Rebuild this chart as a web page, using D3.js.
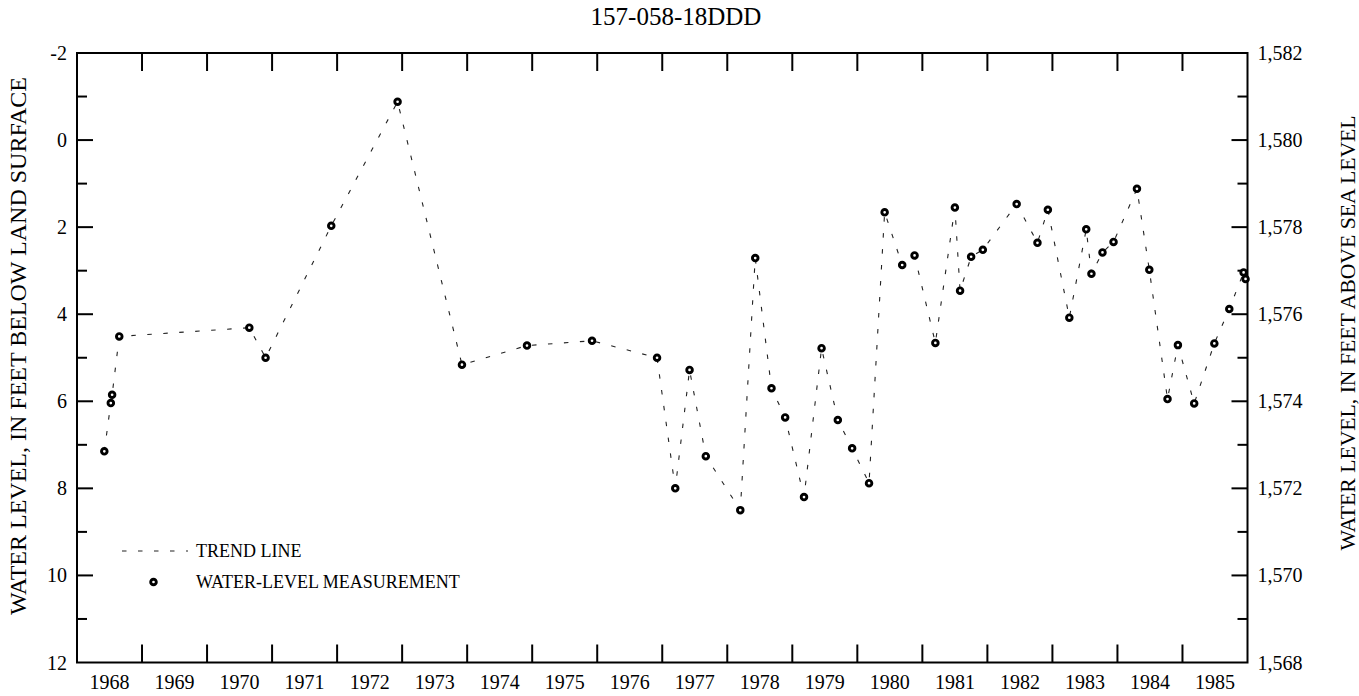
<!DOCTYPE html>
<html>
<head>
<meta charset="utf-8">
<script src="https://cdn.jsdelivr.net/npm/d3@7"></script>
<style>
  html, body { margin: 0; padding: 0; background: #fff; }
  svg { display: block; font-family: "Liberation Serif", "Times New Roman", serif; }
</style>
</head>
<body>
<svg id="chart" width="1359" height="696"></svg>
<script>
// ---- data ----
const chartTitle = "157-058-18DDD";
const measureYears = [1968.42, 1968.52, 1968.54, 1968.65, 1970.65, 1970.90, 1971.91, 1972.93,
  1973.92, 1974.92, 1975.92, 1976.92, 1977.20, 1977.42, 1977.67, 1978.20, 1978.43, 1978.68,
  1978.89, 1979.18, 1979.45, 1979.70, 1979.92, 1980.18, 1980.42, 1980.69, 1980.88, 1981.20,
  1981.50, 1981.58, 1981.75, 1981.93, 1982.45, 1982.77, 1982.93, 1983.26, 1983.52, 1983.60,
  1983.77, 1983.94, 1984.30, 1984.49, 1984.77, 1984.93, 1985.18, 1985.49, 1985.72, 1985.94, 1985.97];
const depthBelowSurface = [7.15, 6.04, 5.85, 4.51, 4.31, 5.00, 1.97, -0.88,
  5.16, 4.72, 4.61, 5.00, 8.00, 5.28, 7.26, 8.50, 2.71, 5.70,
  6.37, 8.20, 4.78, 6.43, 7.08, 7.88, 1.66, 2.87, 2.65, 4.66,
  1.55, 3.46, 2.68, 2.52, 1.47, 2.36, 1.60, 4.08, 2.05, 3.07,
  2.58, 2.34, 1.12, 2.98, 5.95, 4.71, 6.05, 4.67, 3.88, 3.04, 3.19];
const yearLabels = [1968, 1969, 1970, 1971, 1972, 1973, 1974, 1975, 1976, 1977, 1978, 1979, 1980, 1981, 1982, 1983, 1984, 1985];
const leftTicks = [-2, 0, 2, 4, 6, 8, 10, 12];
const rightTicks = [1582, 1580, 1578, 1576, 1574, 1572, 1570, 1568];
const landSurfaceAltitude = 1580;
const leftTitle = "WATER LEVEL, IN FEET BELOW LAND SURFACE";
const rightTitle = "WATER LEVEL, IN FEET ABOVE SEA LEVEL";
const legendLabels = ["TREND LINE", "WATER-LEVEL MEASUREMENT"];

// ---- layout ----
const L = 77, R = 1247.5, T = 53, B = 662.5;
const svg = d3.select("#chart");

const x = d3.scaleLinear().domain([1968, 1986]).range([L, R]);
const y = d3.scaleLinear().domain([-2, 12]).range([T, B]);
const yR = d3.scaleLinear().domain([landSurfaceAltitude + 2, landSurfaceAltitude - 12]).range([T, B]);

const data = measureYears.map((yr, i) => ({ yr, d: depthBelowSurface[i] }));

// year ticks (boundaries) top and bottom, pointing inward
const yearBounds = d3.range(1969, 1986);
const tickG = svg.append("g").attr("stroke", "#000").attr("stroke-width", 2);
yearBounds.forEach(v => {
  tickG.append("line").attr("x1", x(v)).attr("x2", x(v)).attr("y1", T).attr("y2", T + 18);
  tickG.append("line").attr("x1", x(v)).attr("x2", x(v)).attr("y1", B).attr("y2", B - 18);
});
// y ticks: major even, minor odd
d3.range(-1, 12).forEach(v => {
  const len = (v % 2 === 0) ? 16 : 10;
  tickG.append("line").attr("x1", L).attr("x2", L + len).attr("y1", y(v)).attr("y2", y(v));
  tickG.append("line").attr("x1", R).attr("x2", R - len).attr("y1", y(v)).attr("y2", y(v));
});

// frame
svg.append("rect").attr("x", L).attr("y", T).attr("width", R - L).attr("height", B - T)
  .attr("fill", "none").attr("stroke", "#000").attr("stroke-width", 2);

// tick labels
svg.append("g").selectAll("text").data(yearLabels).join("text")
  .attr("x", d => x(d + 0.5)).attr("y", B + 26)
  .attr("text-anchor", "middle").attr("font-size", 20).text(d => d);

svg.append("g").selectAll("text").data(leftTicks).join("text")
  .attr("x", L - 10).attr("y", d => y(d)).attr("dy", "0.35em")
  .attr("text-anchor", "end").attr("font-size", 20).text(d => d);

const fmt = d3.format(",");
svg.append("g").selectAll("text").data(rightTicks).join("text")
  .attr("x", R + 10).attr("y", d => yR(d)).attr("dy", "0.35em")
  .attr("text-anchor", "start").attr("font-size", 20).text(d => fmt(d));

// title
svg.append("text").attr("x", 676).attr("y", 25).attr("text-anchor", "middle")
  .attr("font-size", 25).text(chartTitle);

// axis titles
svg.append("text").attr("transform", "translate(26,346) rotate(-90)")
  .attr("text-anchor", "middle").attr("font-size", 24).text(leftTitle);
svg.append("text").attr("transform", "translate(1355,333) rotate(-90)")
  .attr("text-anchor", "middle").attr("font-size", 21.7).text(rightTitle);

// trend line
const line = d3.line().x(d => x(d.yr)).y(d => y(d.d));
svg.append("path").datum(data).attr("d", line)
  .attr("fill", "none").attr("stroke", "#222").attr("stroke-width", 1.1)
  .attr("stroke-dasharray", "4.5,11.5");

// markers
svg.append("g").selectAll("circle").data(data).join("circle")
  .attr("cx", d => x(d.yr)).attr("cy", d => y(d.d)).attr("r", 2.8)
  .attr("fill", "#fff").attr("stroke", "#000").attr("stroke-width", 2.9);

// legend
svg.append("line").attr("x1", 122).attr("x2", 188).attr("y1", 551).attr("y2", 551)
  .attr("stroke", "#222").attr("stroke-width", 1.1).attr("stroke-dasharray", "4.5,11.5");
svg.append("text").attr("x", 196).attr("y", 551).attr("dy", "0.35em")
  .attr("font-size", 18).text(legendLabels[0]);
svg.append("circle").attr("cx", 153.5).attr("cy", 582).attr("r", 2.8)
  .attr("fill", "#fff").attr("stroke", "#000").attr("stroke-width", 2.9);
svg.append("text").attr("x", 196).attr("y", 582).attr("dy", "0.35em")
  .attr("font-size", 18).text(legendLabels[1]);
</script>
</body>
</html>
